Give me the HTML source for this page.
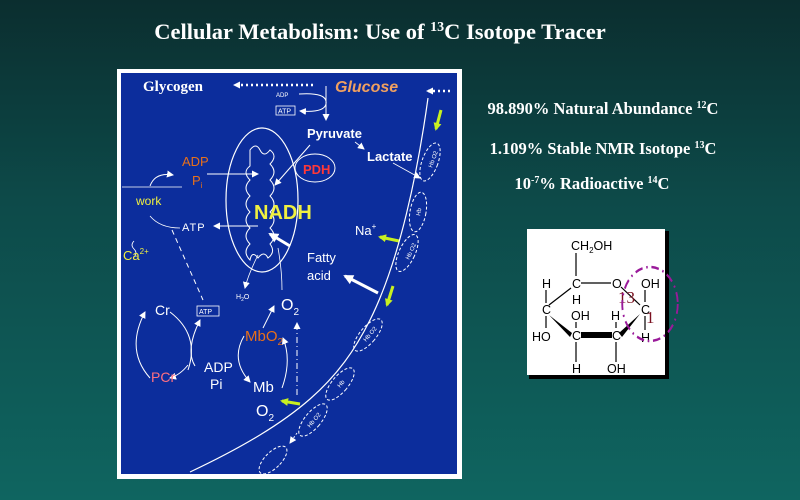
<!DOCTYPE html>
<html><head><meta charset="utf-8"><style>
html,body{margin:0;padding:0}
body{width:800px;height:500px;overflow:hidden;background:linear-gradient(180deg,#0b2e2f 0%,#0d4a49 40%,#0f6560 100%);}
svg{display:block}
</style></head><body>
<svg width="800" height="500" viewBox="0 0 800 500" xmlns="http://www.w3.org/2000/svg">
<defs>
<marker id="a" markerUnits="userSpaceOnUse" markerWidth="7" markerHeight="7" refX="6" refY="3.5" orient="auto"><path d="M0,0 L7,3.5 L0,7 z" fill="#fff"/></marker>
<marker id="b" markerUnits="userSpaceOnUse" markerWidth="10" markerHeight="10" refX="8" refY="5" orient="auto"><path d="M0,0 L10,5 L0,10 z" fill="#fff"/></marker>
<marker id="y" markerUnits="userSpaceOnUse" markerWidth="8" markerHeight="8" refX="6" refY="4" orient="auto"><path d="M0,0 L8,4 L0,8 z" fill="#c8f020"/></marker>
</defs>
<text x="380" y="39" text-anchor="middle" font-family="Liberation Serif,serif" font-weight="bold" font-size="22.5" fill="#fff">Cellular  Metabolism: Use of <tspan font-size="14" dy="-8">13</tspan><tspan dy="8">C Isotope Tracer</tspan></text>

<!-- panel -->
<rect x="117" y="69" width="345" height="410" fill="#fff"/>
<rect x="121" y="73" width="336" height="401" fill="#0c2d9c"/>

<g font-family="Liberation Sans,sans-serif" fill="#fff">
<text x="143" y="91" font-family="Liberation Serif,serif" font-weight="bold" font-size="15">Glycogen</text>
<line x1="215" y1="84" x2="232" y2="84" stroke="none"/>
<line x1="214" y1="85" x2="233" y2="85" stroke="none"/>
<line x1="213" y1="85" x2="233" y2="85" stroke="none"/>
<line x1="314" y1="86" x2="234" y2="86" stroke="#fff" stroke-width="2.5" stroke-dasharray="2,3" stroke-opacity="0"/>
<line x1="213" y1="85" x2="234" y2="85" stroke="none"/>
<line x1="215" y1="85" x2="234" y2="85" stroke="none"/>
<line x1="312" y1="85" x2="232" y2="85" stroke="none"/>
<line x1="313" y1="85" x2="236" y2="85" stroke="none"/>
<line x1="312" y1="85" x2="312" y2="85" stroke="none"/>
<line x1="313" y1="85" x2="313" y2="85" stroke="none"/>
<line x1="313" y1="85" x2="234" y2="85" stroke="#fff" stroke-width="2.5" stroke-dasharray="2,3" marker-end="url(#a)"/>
<text x="335" y="92" font-size="16" font-style="italic" font-weight="bold" fill="#f0a060">Glucose</text>
<line x1="450" y1="91" x2="427" y2="91" stroke="#fff" stroke-width="2.5" stroke-dasharray="2,3" marker-end="url(#a)"/>
<text x="276" y="97" font-size="6">ADP</text>
<rect x="276" y="106" width="19" height="9" fill="none" stroke="#fff" stroke-width="0.8"/>
<text x="278" y="113.5" font-size="7">ATP</text>
<path d="M299,94 Q328,92 326,104 Q324,113 300,111" fill="none" stroke="#fff" marker-end="url(#a)"/>
<line x1="326" y1="86" x2="326" y2="120" stroke="#fff" marker-end="url(#a)"/>
<text x="307" y="138" font-size="13" font-weight="bold">Pyruvate</text>
<text x="367" y="161" font-size="13" font-weight="bold">Lactate</text>
<line x1="355" y1="142" x2="364" y2="149" stroke="#fff" stroke-width="0.8" marker-end="url(#a)"/>
<line x1="393" y1="163" x2="420" y2="178" stroke="#fff" stroke-width="0.8" marker-end="url(#a)"/>

<!-- mito -->
<ellipse cx="262" cy="200" rx="36" ry="72" fill="none" stroke="#fff" stroke-width="1.2"/>
<path d="M250,150 q6,-8 10,0 q4,8 10,0 q8,6 0,14 q8,8 0,16 q8,8 0,16 q8,8 0,16 q8,8 0,16 q8,8 0,16 q6,8 -2,14 q-4,-8 -10,0 q-6,-8 -8,2 q-8,-8 0,-16 q-8,-8 0,-16 q-8,-8 0,-16 q-8,-8 0,-16 q-8,-8 0,-16 q-8,-8 0,-14 z" fill="none" stroke="#fff" stroke-width="1"/>
<ellipse cx="315" cy="168" rx="20" ry="14" fill="none" stroke="#fff" stroke-width="1"/>
<text x="303" y="174" font-size="13" font-weight="bold" fill="#ff3838">PDH</text>
<line x1="310" y1="145" x2="275" y2="185" stroke="#fff" marker-end="url(#a)"/>
<text x="254" y="219" font-size="20" font-weight="bold" fill="#f0f040">NADH</text>
<text x="182" y="166" font-size="13" fill="#e8701a">ADP</text>
<text x="192" y="185" font-size="13" fill="#e8701a">P<tspan font-size="8" dy="3">i</tspan></text>
<line x1="207" y1="174" x2="258" y2="174" stroke="#fff" marker-end="url(#a)"/>
<line x1="122" y1="187" x2="182" y2="187" stroke="#fff" stroke-width="0.8"/>
<path d="M150,186 Q155,172 173,175" fill="none" stroke="#fff" marker-end="url(#a)"/>
<text x="136" y="205" font-size="12" fill="#f0f040">work</text>
<path d="M150,216 Q160,228 180,228" fill="none" stroke="#fff" stroke-width="0.8"/>
<text x="182" y="231" font-size="11" letter-spacing="1">ATP</text>
<line x1="258" y1="226" x2="214" y2="226" stroke="#fff" marker-end="url(#a)"/>
<path d="M134,241 q-4,4 0,8 q4,4 0,8 " fill="none" stroke="#fff" stroke-width="0.8"/>
<text x="123" y="260" font-size="13" fill="#f0f040">Ca<tspan font-size="8" dy="-6">2+</tspan></text>
<line x1="172" y1="230" x2="203" y2="300" stroke="#fff" stroke-dasharray="5,4"/>
<line x1="290" y1="246" x2="270" y2="234" stroke="#fff" stroke-width="3" marker-end="url(#b)"/>
<path d="M258,255 Q248,275 245,288" fill="none" stroke="#fff" stroke-width="0.8" marker-end="url(#a)"/>
<text x="236" y="299" font-size="7">H<tspan font-size="5" dy="2">2</tspan><tspan dy="-2">O</tspan></text>
<path d="M278,248 Q282,270 282,290" fill="none" stroke="#fff" stroke-width="0.8"/>
<text x="307" y="262" font-size="13">Fatty</text>
<text x="307" y="280" font-size="13">acid</text>
<line x1="378" y1="293" x2="345" y2="276" stroke="#fff" stroke-width="3" marker-end="url(#b)"/>
<text x="355" y="235" font-size="13">Na<tspan font-size="8" dy="-6">+</tspan></text>
<line x1="399" y1="241" x2="380" y2="237" stroke="#c8f020" stroke-width="3" marker-end="url(#y)"/>
<line x1="441" y1="110" x2="436" y2="129" stroke="#c8f020" stroke-width="3" marker-end="url(#y)"/>
<line x1="393" y1="286" x2="387" y2="305" stroke="#c8f020" stroke-width="3" marker-end="url(#y)"/>
<line x1="300" y1="404" x2="282" y2="401" stroke="#c8f020" stroke-width="3" marker-end="url(#y)"/>

<!-- membrane -->
<path d="M428,98 C418,170 400,260 370,320 C340,380 300,420 190,472" fill="none" stroke="#fff" stroke-width="1.2"/>
<g fill="none" stroke="#fff" stroke-width="1" stroke-dasharray="3,2">
<ellipse cx="430" cy="162" rx="8" ry="20" transform="rotate(20 430 162)"/>
<ellipse cx="418" cy="212" rx="8" ry="20" transform="rotate(10 418 212)"/>
<ellipse cx="407" cy="253" rx="8" ry="20" transform="rotate(25 407 253)"/>
<ellipse cx="368" cy="335" rx="8" ry="20" transform="rotate(40 368 335)"/>
<ellipse cx="340" cy="384" rx="8" ry="20" transform="rotate(40 340 384)"/>
<ellipse cx="313" cy="420" rx="8" ry="20" transform="rotate(40 313 420)"/>
<ellipse cx="273" cy="460" rx="8" ry="18" transform="rotate(45 273 460)"/>
</g>
<g font-size="6">
<text transform="translate(432 168) rotate(-70)">Hb O2</text>
<text transform="translate(420 216) rotate(-80)">Hb</text>
<text transform="translate(409 260) rotate(-65)">Hb O2</text>
<text transform="translate(366 342) rotate(-50)">Hb O2</text>
<text transform="translate(340 388) rotate(-50)">Hb</text>
<text transform="translate(310 428) rotate(-50)">Hb O2</text>
</g>
<line x1="297" y1="433" x2="290" y2="443" stroke="#fff" stroke-dasharray="2,2" marker-end="url(#a)"/>

<!-- lower -->
<text x="155" y="315" font-size="14">Cr</text>
<rect x="197" y="306" width="22" height="10" fill="none" stroke="#fff" stroke-width="0.8"/>
<text x="199" y="314" font-size="7">ATP</text>
<path d="M170,312 Q200,335 188,370" fill="none" stroke="#fff" stroke-width="1"/>
<path d="M150,378 Q125,350 145,312" fill="none" stroke="#fff" stroke-width="1" marker-end="url(#a)"/>
<path d="M195,366 Q185,350 200,320" fill="none" stroke="#fff" stroke-width="1" marker-end="url(#a)"/>
<path d="M188,365 Q180,375 170,378" fill="none" stroke="#fff" stroke-width="1" marker-end="url(#a)"/>
<text x="151" y="382" font-size="14" fill="#ff7080">PCr</text>
<text x="204" y="372" font-size="14">ADP</text>
<text x="210" y="389" font-size="14">Pi</text>
<text x="245" y="341" font-size="15" fill="#e8701a">MbO<tspan font-size="10" dy="4">2</tspan></text>
<text x="281" y="310" font-size="16">O<tspan font-size="10" dy="5">2</tspan></text>
<line x1="263" y1="328" x2="274" y2="306" stroke="#fff" marker-end="url(#a)"/>
<path d="M244,336 Q230,360 250,382" fill="none" stroke="#fff" marker-end="url(#a)"/>
<path d="M282,388 Q292,360 283,338" fill="none" stroke="#fff" marker-end="url(#a)"/>
<text x="253" y="392" font-size="15">Mb</text>
<line x1="297" y1="395" x2="297" y2="323" stroke="#fff" stroke-dasharray="6,3,1,3" marker-end="url(#a)"/>
<text x="256" y="416" font-size="16">O<tspan font-size="10" dy="5">2</tspan></text>
</g>

<!-- right text -->
<g font-family="Liberation Serif,serif" font-weight="bold" font-size="16.5" fill="#fff" text-anchor="middle">
<text x="603" y="114">98.890% Natural Abundance <tspan font-size="10" dy="-6">12</tspan><tspan dy="6">C</tspan></text>
<text x="603" y="154">1.109% Stable NMR Isotope  <tspan font-size="10" dy="-6">13</tspan><tspan dy="6">C</tspan></text>
<text x="592" y="189">10<tspan font-size="10" dy="-6">-7</tspan><tspan dy="6">% Radioactive </tspan><tspan font-size="10" dy="-6">14</tspan><tspan dy="6">C</tspan></text>
</g>

<!-- molecule -->
<rect x="529" y="231" width="140" height="148" fill="#000"/>
<rect x="527" y="229" width="138" height="146" fill="#fff"/>
<g font-family="Liberation Sans,sans-serif" font-size="12.5" fill="#000" stroke="none">
<text x="571" y="250">CH<tspan font-size="8" dy="3">2</tspan><tspan dy="-3">OH</tspan></text>
<text x="542" y="288">H</text>
<text x="572" y="288">C</text>
<text x="572" y="304">H</text>
<text x="612" y="288">O</text>
<text x="641" y="288">OH</text>
<text x="542" y="314">C</text>
<text x="571" y="320">OH</text>
<text x="611" y="320">H</text>
<text x="641" y="314">C</text>
<text x="532" y="341">HO</text>
<text x="572" y="340">C</text>
<text x="612" y="340">C</text>
<text x="641" y="342">H</text>
<text x="572" y="373">H</text>
<text x="607" y="373">OH</text>
</g>
<g stroke="#000" stroke-width="1.2" fill="none">
<line x1="576" y1="253" x2="576" y2="276"/>
<line x1="581" y1="283" x2="611" y2="283"/>
<line x1="571" y1="288" x2="549" y2="305"/>
<line x1="546" y1="290" x2="546" y2="303"/>
<line x1="546" y1="316" x2="546" y2="328"/>
<line x1="621" y1="287" x2="640" y2="305"/>
<line x1="645" y1="290" x2="645" y2="302"/>
<line x1="645" y1="316" x2="645" y2="330"/>
<line x1="576" y1="342" x2="576" y2="362"/>
<line x1="616" y1="342" x2="616" y2="362"/>
<line x1="576" y1="322" x2="576" y2="328"/>
<line x1="616" y1="322" x2="616" y2="328"/>
</g>
<polygon points="549,315 572,333 570,337" fill="#000"/>
<rect x="581" y="332" width="31" height="6" fill="#000"/>
<polygon points="619,333 640,314 622,337" fill="#000"/>
<text x="618" y="303" font-family="Liberation Serif,serif" font-size="17" fill="#7a1020">13</text>
<text x="646" y="323" font-family="Liberation Serif,serif" font-size="17" fill="#7a1020">1</text>
<circle cx="650" cy="304" r="37" fill="none" stroke="#9a1a9a" stroke-width="2.5" stroke-dasharray="10,5,2,5" transform="translate(650 304) scale(0.75 1) translate(-650 -304)"/>
</svg>
</body></html>
